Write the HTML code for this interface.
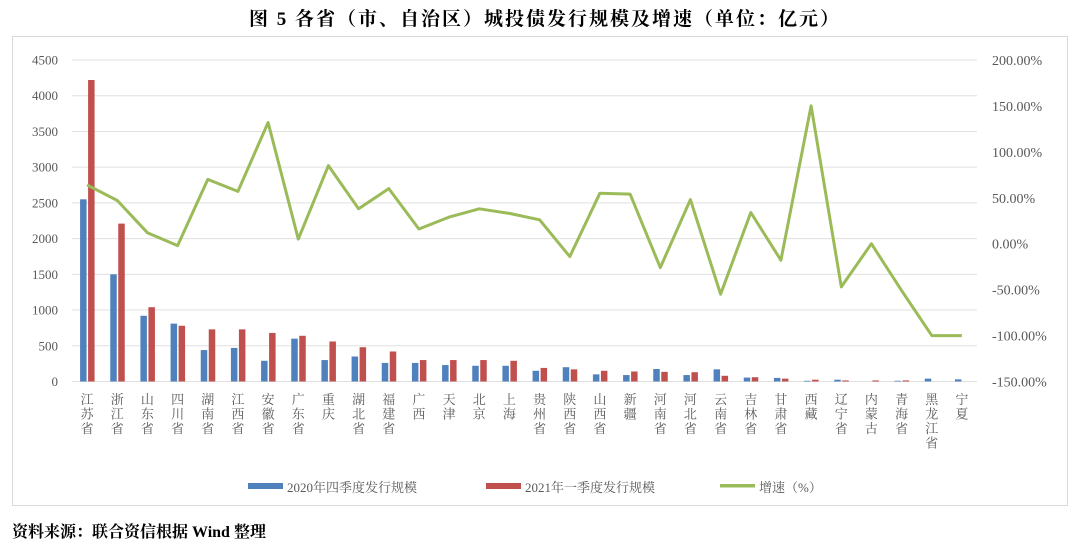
<!DOCTYPE html>
<html><head><meta charset="utf-8"><style>
body{margin:0;background:#fff;width:1080px;height:548px;overflow:hidden}
svg{display:block}
.t{font-family:"Liberation Serif","Noto Serif CJK SC",serif}
</style></head><body>
<svg width="1080" height="548" xmlns="http://www.w3.org/2000/svg">
<text x="545" y="25" text-anchor="middle" class="t" font-size="19" font-weight="bold" letter-spacing="2" fill="#000">图 5  各省（市、自治区）城投债发行规模及增速（单位：亿元）</text>
<rect x="12.5" y="36.5" width="1055" height="469" fill="#fff" stroke="#d9d9d9"/>
<g id="grid" stroke="#e0e0e0" stroke-width="1"></g>
<g id="lab" class="t" font-size="13" fill="#595959"></g>
<g id="bars"></g>
<polyline id="line" fill="none" stroke="#9bbb59" stroke-width="3" stroke-linejoin="round"/>
<g id="xl" class="t" font-size="13" fill="#595959"></g>
<rect x="248" y="483" width="35" height="6" fill="#4f81bd"/>
<text x="287" y="492" class="t" font-size="13" fill="#595959">2020年四季度发行规模</text>
<rect x="486" y="483" width="35" height="6" fill="#c0504d"/>
<text x="525" y="492" class="t" font-size="13" fill="#595959">2021年一季度发行规模</text>
<rect x="720" y="484" width="35" height="3.5" fill="#9bbb59"/>
<text x="759" y="492" class="t" font-size="13" fill="#595959">增速（%）</text>
<text x="12" y="537" class="t" font-size="16" font-weight="bold" fill="#000">资料来源：联合资信根据 Wind 整理</text>
</svg>
<script>
(function(){
var ns="http://www.w3.org/2000/svg";
function el(p,t,a,txt){var e=document.createElementNS(ns,t);for(var k in a)e.setAttribute(k,a[k]);if(txt!=null)e.textContent=txt;document.getElementById(p).appendChild(e);return e;}
var y0=381.5,yt=60,L=72,R=977;
for(var i=0;i<=9;i++){var y=y0-i*(y0-yt)/9;
 el("grid","line",{x1:L,x2:R,y1:y,y2:y});
 el("lab","text",{x:58,y:y+4.5,"text-anchor":"end"},String(i*500));
}
for(var i=0;i<=7;i++){var y=y0-i*(y0-yt)/7;
 el("lab","text",{x:992,y:y+5,"font-size":"14"},(-150+i*50).toFixed(2)+"%");
}
var names=["江苏省","浙江省","山东省","四川省","湖南省","江西省","安徽省","广东省","重庆","湖北省","福建省","广西","天津","北京","上海","贵州省","陕西省","山西省","新疆","河南省","河北省","云南省","吉林省","甘肃省","西藏","辽宁省","内蒙古","青海省","黑龙江省","宁夏"];
var b=[2550,1500,920,810,440,470,290,600,300,350,260,260,230,220,220,150,200,100,90,175,90,170,55,50,10,25,0,10,40,30];
var r=[4220,2210,1040,780,730,730,680,640,560,480,420,300,300,300,290,190,170,150,140,135,130,80,60,40,25,15,15,15,0,0];
var g=[64,47,12,-2,70,57,132,5,85,38,60,16,29,38,33,26,-14,55,54,-26,48,-55,34,-18,150,-47,0,-51,-100,-100];
var n=30,w=(R-L)/n,pts=[];
var s=(y0-yt)/4500, ps=(y0-yt)/350;
for(var i=0;i<n;i++){var c=L+w*(i+0.5);
 var hb=b[i]*s,hr=r[i]*s;
 el("bars","rect",{x:c-7,y:y0-hb,width:6.5,height:hb,fill:"#4f81bd"});
 el("bars","rect",{x:c+1,y:y0-hr,width:6.5,height:hr,fill:"#c0504d"});
 pts.push(c.toFixed(1)+","+(y0-(g[i]+150)*ps).toFixed(1));
 var nm=names[i];
 for(var j=0;j<nm.length;j++){
  el("xl","text",{x:c,y:404+j*14.5,"text-anchor":"middle"},nm[j]);
 }
}
document.getElementById("line").setAttribute("points",pts.join(" "));
})();
</script>
</body></html>
